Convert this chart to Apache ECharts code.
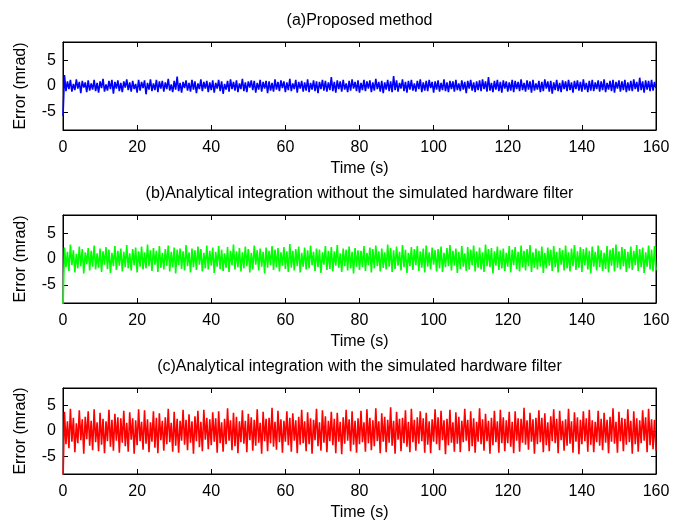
<!DOCTYPE html>
<html>
<head>
<meta charset="utf-8">
<title>Error comparison</title>
<script src="https://cdn.jsdelivr.net/npm/echarts@6/dist/echarts.min.js"></script>
<style>
  html, body { margin: 0; padding: 0; background: #fff; }
  #chart { width: 673px; height: 522px; }
</style>
</head>
<body>
<div id="chart"></div>
<script>
// Sample interval of the error records (s)
const sampleStep = 0.4;

const panelTitles = [
  '(a)Proposed method',
  '(b)Analytical integration without the simulated hardware filter',
  '(c)Analytical integration with the simulated hardware filter'
];
const xLabel = 'Time (s)';
const yLabel = 'Error (mrad)';
const timeRange = [0, 160];
const timeTicks = [0, 20, 40, 60, 80, 100, 120, 140, 160];
const errorRange = [-8.5, 8.5];
const errorTicks = [-5, 0, 5];
const seriesColors = ['#0000ff', '#00ff00', '#ff0000'];

// (a) proposed method, error in mrad
const errorProposed = [
  -5.8, 2.1, -1.0, 0.9, -0.6, 1.2, -1.1, 0.4, -0.8, 1.3, -0.5, 0.8, -1.4, 1.0, -0.3, 0.7, -1.2, 1.1, -0.9, 0.5,
  -0.7, 1.2, -1.0, 0.6, -1.3, 0.9, -0.4, 1.4, -1.1, 0.3, -0.9, 1.0, -0.6, 1.2, -1.5, 0.8, -0.5, 1.1, -1.0, 0.6,
  -1.2, 0.9, -0.3, 1.3, -0.8, 0.7, -1.1, 1.0, -0.6, 0.4, -1.3, 1.2, -0.9, 0.8, -0.4, 1.1, -1.6, 0.6, -0.7, 1.3,
  -1.0, 0.5, -0.8, 1.2, -1.2, 0.9, -0.5, 1.0, -1.1, 0.7, -0.6, 1.4, -0.9, 0.3, -1.2, 1.0, -0.7, 1.8, -1.0, 0.6,
  -1.3, 0.8, -0.4, 1.1, -0.9, 0.6, -1.1, 1.2, -0.7, 0.9, -1.4, 0.5, -0.6, 1.3, -1.0, 0.8, -0.5, 1.0, -1.2, 0.7,
  -0.8, 1.1, -1.3, 0.6, -0.5, 1.2, -1.0, 0.9, -1.5, 0.4, -0.7, 1.0, -1.1, 1.3, -0.6, 0.8, -0.9, 1.1, -1.2, 0.5,
  -0.6, 1.4, -1.0, 0.7, -1.2, 0.9, -0.3, 1.1, -0.8, 1.0, -1.3, 0.6, -0.7, 1.2, -1.1, 0.8, -0.5, 1.0, -1.4, 0.9,
  -0.9, 0.6, -1.1, 1.3, -0.7, 0.8, -1.0, 1.1, -0.4, 0.9, -1.2, 0.7, -0.8, 1.4, -1.0, 0.5, -0.6, 1.2, -1.3, 0.8,
  -0.5, 1.0, -1.1, 0.7, -0.9, 1.3, -1.2, 0.6, -0.7, 1.1, -1.0, 0.9, -1.4, 0.8, -0.6, 1.2, -0.9, 1.0, -1.1, 0.7,
  -0.8, 1.7, -1.0, 0.8, -1.3, 1.1, -0.6, 0.9, -1.1, 1.2, -0.7, 0.5, -1.2, 1.0, -0.9, 1.3, -0.5, 0.8, -1.0, 1.1,
  -1.3, 0.6, -0.8, 1.2, -1.0, 0.9, -0.5, 1.1, -1.2, 0.7, -0.9, 1.4, -0.6, 0.8, -1.1, 1.0, -1.4, 0.7, -0.7, 1.2,
  -1.0, 0.9, -1.2, 1.9, -0.8, 1.1, -1.1, 0.6, -0.5, 1.3, -1.0, 0.8, -1.3, 1.0, -0.7, 1.2, -0.9, 0.5, -1.1, 1.0,
  -0.6, 1.3, -1.2, 0.7, -0.9, 1.0, -1.0, 1.2, -0.4, 0.8, -1.3, 0.9, -0.7, 1.1, -1.1, 0.6, -0.8, 1.3, -1.0, 0.7,
  -1.2, 1.0, -0.6, 0.9, -1.1, 1.2, -0.8, 0.5, -1.0, 1.1, -0.7, 0.8, -1.4, 1.0, -0.5, 1.2, -0.9, 0.7, -1.2, 0.9,
  -0.8, 1.1, -1.0, 1.3, -0.6, 0.9, -1.1, 1.7, -0.9, 0.6, -1.2, 1.0, -0.7, 1.2, -1.0, 0.8, -1.3, 1.1, -0.5, 0.9,
  -1.1, 0.7, -0.9, 1.2, -1.2, 1.0, -0.6, 0.8, -1.0, 1.3, -0.8, 0.6, -1.1, 1.1, -0.7, 0.9, -1.3, 1.2, -0.9, 0.5,
  -0.7, 1.0, -1.2, 0.8, -1.0, 1.3, -0.5, 0.9, -1.1, 1.0, -1.5, 0.7, -0.8, 1.2, -1.0, 0.6, -1.2, 1.1, -0.6, 0.9,
  -1.0, 1.2, -0.8, 0.7, -1.3, 1.0, -0.6, 1.1, -0.9, 0.8, -1.1, 1.3, -0.7, 0.6, -1.2, 1.0, -0.9, 1.2, -1.0, 0.7,
  -0.6, 1.1, -1.1, 0.9, -0.8, 1.3, -1.2, 0.6, -0.7, 1.0, -1.0, 1.2, -1.3, 0.8, -0.5, 1.1, -1.1, 0.9, -0.8, 1.2,
  -1.2, 0.7, -0.9, 1.0, -1.0, 1.3, -0.6, 0.8, -1.1, 1.6, -0.8, 0.9, -1.3, 1.1, -0.7, 1.0, -1.0, 1.2, -0.9, 0.8,
  -0.4
];

// (b) analytical integration, no hardware filter, error in mrad
const errorNoFilter = [
  -9.5, 2.2, -1.6, 1.4, -2.3, 2.8, -1.2, 1.7, -2.6, 1.0, -1.8, 2.4, -1.4, 1.9, -2.8, 1.3, -1.0, 2.1, -2.2, 1.6,
  -1.5, 2.6, -2.0, 1.1, -1.7, 2.0, -2.5, 1.5, -1.1, 2.3, -1.9, 1.8, -2.7, 1.2, -1.4, 2.5, -2.1, 1.6, -1.3, 2.0,
  -2.4, 1.4, -1.6, 2.7, -1.8, 1.1, -2.2, 1.9, -1.2, 2.2, -2.6, 1.5, -1.5, 2.4, -2.0, 1.3, -1.8, 2.8, -1.4, 1.7,
  -2.3, 2.1, -1.1, 1.6, -2.5, 2.5, -1.7, 1.2, -2.0, 1.9, -1.3, 2.6, -2.4, 1.4, -1.6, 2.2, -2.8, 1.8, -1.2, 2.0,
  -1.9, 1.5, -2.2, 2.7, -1.4, 1.3, -2.6, 2.0, -1.6, 1.7, -2.1, 2.4, -1.1, 1.9, -2.4, 1.2, -1.8, 2.6, -2.0, 1.6,
  -1.3, 2.2, -2.7, 1.4, -1.5, 2.5, -1.9, 1.8, -2.3, 1.1, -1.7, 2.3, -2.5, 1.6, -1.2, 2.8, -2.0, 1.5, -1.6, 2.1,
  -2.4, 1.3, -1.8, 2.4, -1.4, 1.9, -2.6, 1.2, -2.0, 2.6, -1.1, 1.7, -2.2, 2.0, -1.5, 1.4, -2.8, 2.2, -1.7, 1.6,
  -1.2, 2.5, -2.1, 1.8, -1.6, 2.1, -2.4, 1.3, -1.3, 2.3, -1.9, 1.5, -2.5, 2.9, -1.7, 1.6, -2.2, 1.9, -1.4, 2.4,
  -2.6, 1.2, -1.5, 2.2, -2.0, 1.7, -1.8, 2.6, -1.2, 1.4, -2.3, 2.0, -1.6, 1.8, -2.7, 1.3, -1.1, 2.5, -2.1, 1.6,
  -1.9, 2.3, -2.4, 1.5, -1.3, 2.7, -1.7, 1.1, -2.5, 2.0, -1.4, 1.8, -2.2, 2.4, -1.8, 1.4, -2.8, 2.1, -1.5, 1.7,
  -2.1, 1.6, -1.6, 2.5, -2.3, 1.2, -1.2, 2.2, -2.6, 1.9, -1.8, 2.6, -1.4, 1.5, -2.4, 2.0, -1.7, 1.3, -2.0, 2.8,
  -1.5, 2.1, -2.5, 1.7, -1.9, 2.4, -1.3, 1.4, -2.2, 2.7, -1.6, 1.8, -2.7, 1.2, -1.4, 2.3, -2.1, 1.9, -1.2, 2.5,
  -2.3, 1.5, -1.7, 2.0, -2.6, 2.6, -1.5, 1.3, -2.0, 2.2, -1.1, 1.7, -2.4, 1.9, -1.8, 2.4, -2.5, 1.2, -1.6, 2.1,
  -1.4, 2.7, -2.2, 1.6, -1.3, 2.0, -2.7, 1.4, -1.9, 2.5, -1.5, 1.1, -2.3, 2.3, -2.0, 1.8, -1.2, 2.6, -2.4, 1.5,
  -1.7, 2.2, -2.0, 1.3, -2.5, 2.8, -1.4, 1.9, -1.6, 2.1, -2.8, 1.5, -1.3, 2.4, -2.1, 1.7, -1.8, 2.0, -2.3, 1.2,
  -1.5, 2.5, -2.6, 1.8, -1.2, 2.3, -1.9, 1.4, -2.4, 2.6, -1.6, 1.6, -2.2, 1.9, -1.4, 2.7, -2.5, 1.3, -1.7, 2.0,
  -2.0, 1.6, -1.5, 2.4, -2.7, 1.2, -1.8, 2.2, -1.3, 1.8, -2.3, 2.5, -1.6, 1.4, -2.6, 2.1, -1.1, 1.7, -2.2, 2.6,
  -1.8, 1.3, -2.4, 2.0, -1.4, 2.7, -2.1, 1.5, -1.7, 2.3, -2.5, 1.9, -1.2, 2.2, -2.0, 1.6, -2.8, 2.4, -1.5, 1.4,
  -2.2, 2.6, -1.6, 1.7, -2.3, 1.2, -1.9, 2.5, -2.6, 1.8, -1.3, 2.1, -2.4, 2.8, -1.7, 1.5, -2.0, 2.3, -1.4, 1.9,
  -2.5, 1.4, -1.8, 2.4, -2.1, 1.6, -1.2, 2.7, -2.3, 1.9, -1.6, 2.2, -2.7, 1.3, -1.5, 2.6, -2.0, 1.8, -2.4, 2.5,
  -2.2
];

// (c) analytical integration, with hardware filter, error in mrad
const errorWithFilter = [
  -10.0, 3.8, -2.6, 1.9, -3.4, 4.4, -2.1, 2.6, -4.2, 1.5, -2.4, 4.1, -1.8, 2.3, -4.5, 2.8, -1.6, 3.9, -2.9, 2.0,
  -3.8, 4.3, -2.2, 1.7, -4.0, 3.6, -2.7, 2.4, -4.4, 1.9, -2.0, 4.2, -3.1, 2.2, -3.9, 3.4, -1.9, 2.7, -4.3, 2.5,
  -2.3, 4.0, -3.0, 1.6, -4.1, 3.7, -1.7, 2.5, -4.5, 2.1, -2.8, 4.3, -2.0, 1.8, -3.7, 4.1, -2.5, 2.3, -4.2, 1.7,
  -2.1, 3.9, -3.3, 2.6, -4.4, 3.5, -1.8, 2.0, -3.9, 2.7, -2.6, 4.4, -2.2, 1.6, -4.1, 3.8, -2.9, 2.4, -4.3, 2.0,
  -1.9, 4.2, -2.7, 2.2, -3.8, 3.3, -2.3, 1.9, -4.5, 2.9, -2.0, 4.0, -3.2, 1.8, -4.0, 4.2, -1.7, 2.6, -3.6, 2.3,
  -2.8, 3.7, -2.1, 2.5, -4.3, 3.9, -2.4, 1.7, -4.1, 2.4, -2.6, 4.5, -1.9, 2.1, -3.8, 3.6, -3.0, 2.8, -4.4, 1.9,
  -2.2, 4.1, -2.5, 2.0, -4.2, 3.4, -1.8, 2.7, -3.9, 2.2, -2.9, 4.3, -2.3, 1.6, -4.5, 3.8, -2.0, 2.4, -4.0, 2.6,
  -2.4, 4.6, -3.1, 1.8, -3.7, 4.0, -2.2, 2.3, -4.3, 2.0, -2.1, 3.9, -2.8, 2.6, -4.1, 3.5, -1.9, 2.1, -4.4, 2.8,
  -2.7, 4.2, -2.4, 1.9, -4.0, 3.7, -2.6, 2.5, -4.5, 2.2, -1.8, 4.4, -3.0, 1.7, -3.9, 4.1, -2.3, 2.9, -4.2, 2.0,
  -2.0, 3.8, -2.8, 2.4, -4.4, 3.6, -2.1, 1.8, -4.6, 2.7, -2.5, 4.2, -1.9, 2.3, -4.0, 3.9, -2.7, 2.0, -4.3, 2.5,
  -2.6, 4.0, -2.2, 1.7, -4.1, 4.3, -2.4, 2.6, -3.8, 2.1, -3.0, 4.5, -2.0, 1.9, -4.4, 3.5, -2.1, 2.8, -4.2, 2.2,
  -2.3, 4.7, -2.9, 2.0, -4.5, 3.8, -1.7, 2.4, -4.0, 2.6, -2.4, 4.1, -3.1, 1.8, -4.2, 4.4, -2.2, 2.2, -3.9, 2.7,
  -2.5, 3.9, -2.0, 2.5, -4.3, 3.6, -2.7, 1.9, -4.4, 2.3, -2.1, 4.3, -2.6, 2.7, -3.8, 4.0, -1.8, 2.1, -4.6, 2.4,
  -2.8, 4.2, -2.3, 1.7, -4.1, 3.7, -2.5, 2.8, -4.2, 2.0, -2.2, 4.4, -1.9, 2.2, -4.0, 3.9, -3.0, 2.5, -4.3, 1.8,
  -2.1, 4.5, -2.6, 2.3, -3.9, 3.4, -2.0, 2.0, -4.5, 2.6, -2.8, 4.0, -2.2, 1.9, -4.3, 4.2, -2.4, 2.7, -4.0, 2.1,
  -2.4, 3.8, -3.1, 1.8, -4.4, 3.9, -1.9, 2.5, -4.1, 2.4, -2.3, 4.6, -2.7, 2.1, -3.7, 3.6, -2.1, 2.3, -4.5, 2.6,
  -2.6, 4.1, -2.2, 2.6, -4.2, 3.5, -2.8, 1.7, -4.0, 2.9, -2.0, 4.3, -2.4, 2.4, -4.4, 4.0, -1.8, 2.0, -3.9, 2.3,
  -2.9, 4.4, -2.5, 1.9, -4.3, 3.7, -2.1, 2.7, -4.6, 2.2, -2.6, 3.9, -2.0, 2.5, -4.1, 4.2, -2.7, 2.1, -4.2, 1.8,
  -2.2, 4.0, -2.9, 2.4, -3.8, 3.6, -2.3, 2.2, -4.4, 2.8, -2.1, 4.5, -2.5, 1.8, -4.3, 3.8, -2.0, 2.6, -4.0, 2.4,
  -2.7, 4.3, -2.2, 2.0, -4.5, 3.9, -2.6, 2.5, -4.1, 2.1, -2.4, 4.1, -1.9, 2.7, -4.2, 4.4, -2.8, 2.3, -3.6, 2.2,
  -3.9
];

const panelSeries = [errorProposed, errorNoFilter, errorWithFilter];

// Panel frames (px)
const gridLeft = 63;
const gridWidth = 593;
const gridTops = [42, 215, 388];
const gridHeight = 88;

const FONT = '"Liberation Sans", Arial, Helvetica, sans-serif';

function tickOpts(values) {
  return { show: true, inside: true, length: 5, customValues: values, lineStyle: { color: '#000', width: 1 } };
}
function frameLine() {
  return { show: true, onZero: false, lineStyle: { color: '#000', width: 1 } };
}

const chart = echarts.init(document.getElementById('chart'), null, { renderer: 'canvas' });

const grid = [], xAxis = [], yAxis = [], series = [], title = [];

panelSeries.forEach((values, p) => {
  grid.push({
    left: gridLeft, top: gridTops[p], width: gridWidth, height: gridHeight,
    show: true, borderColor: '#000', borderWidth: 1, backgroundColor: 'transparent',
    containLabel: false
  });

  title.push({
    text: panelTitles[p],
    left: gridLeft + gridWidth / 2,
    textAlign: 'center',
    top: gridTops[p] - 29,
    padding: 0,
    textStyle: { fontFamily: FONT, fontSize: 16, fontWeight: 'normal', color: '#000' }
  });

  // bottom axis with labels
  xAxis.push({
    type: 'value', gridIndex: p, position: 'bottom',
    min: timeRange[0], max: timeRange[1],
    axisLine: frameLine(),
    axisTick: tickOpts(timeTicks),
    axisLabel: { customValues: timeTicks, color: '#000', fontFamily: FONT, fontSize: 16, margin: 10 },
    splitLine: { show: false },
    name: xLabel, nameLocation: 'middle', nameGap: 31,
    nameTextStyle: { fontFamily: FONT, fontSize: 16, color: '#000' }
  });
  // top axis, ticks only
  xAxis.push({
    type: 'value', gridIndex: p, position: 'top',
    min: timeRange[0], max: timeRange[1],
    axisLine: frameLine(),
    axisTick: tickOpts(timeTicks),
    axisLabel: { show: false, customValues: timeTicks },
    splitLine: { show: false }
  });

  yAxis.push({
    type: 'value', gridIndex: p, position: 'left',
    min: errorRange[0], max: errorRange[1],
    axisLine: frameLine(),
    axisTick: tickOpts(errorTicks),
    axisLabel: { customValues: errorTicks, color: '#000', fontFamily: FONT, fontSize: 16, margin: 7 },
    splitLine: { show: false },
    name: yLabel, nameLocation: 'middle', nameGap: 34, nameRotate: 90,
    nameTextStyle: { fontFamily: FONT, fontSize: 16, color: '#000' }
  });
  yAxis.push({
    type: 'value', gridIndex: p, position: 'right',
    min: errorRange[0], max: errorRange[1],
    axisLine: frameLine(),
    axisTick: tickOpts(errorTicks),
    axisLabel: { show: false, customValues: errorTicks },
    splitLine: { show: false }
  });

  series.push({
    type: 'line',
    xAxisIndex: p * 2, yAxisIndex: p * 2,
    data: values.map((v, i) => [i * sampleStep, v]),
    showSymbol: false, symbol: 'none',
    lineStyle: { color: seriesColors[p], width: 1.6 },
    clip: true, silent: true, z: 1
  });
});

chart.setOption({
  animation: false,
  backgroundColor: '#fff',
  title, grid, xAxis, yAxis, series
});
</script>
</body>
</html>
